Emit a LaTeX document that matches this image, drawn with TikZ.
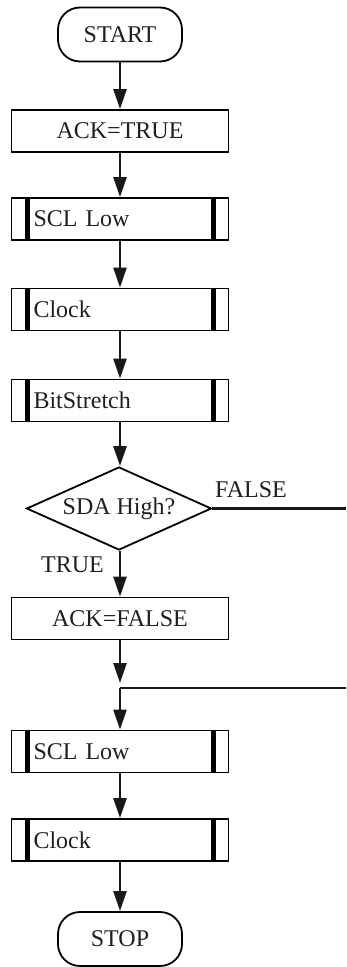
\documentclass[tikz,border=0pt]{standalone}
\usepackage{fontspec}
\setmainfont{Liberation Serif}
\usetikzlibrary{shapes.geometric,arrows.meta}
\begin{document}
\begin{tikzpicture}[x=1pt,y=-1pt,
  every node/.style={font=\fontsize{24}{28}\selectfont, text=black!88},
  term/.style={draw, line width=1.8pt, rounded corners=22pt, minimum width=124pt, minimum height=54pt, inner sep=0pt},
  procbox/.style={draw, line width=1.8pt, minimum width=217pt, minimum height=42pt, inner sep=0pt},
  subproc/.style={draw, line width=1.8pt, minimum height=42pt, inner xsep=22pt, inner ysep=0pt, text width=173pt, align=left,
    path picture={
      \fill ([xshift=13pt]path picture bounding box.north west) rectangle ([xshift=18pt]path picture bounding box.south west);
      \fill ([xshift=-13pt]path picture bounding box.north east) rectangle ([xshift=-18pt]path picture bounding box.south east);
    }},
  decision/.style={draw, diamond, aspect=2.23, line width=1.8pt, minimum width=185pt, minimum height=83pt, inner sep=0pt},
  lbl/.style={inner sep=0pt},
  conn/.style={line width=2.4pt, draw=black!90},
  arr/.style={conn, -{Triangle[length=20pt,width=13pt]}}
]
\useasboundingbox (0,0) rectangle (346,967);
\node[term] (start) at (120,34.5) {START};
\node[procbox] (ack1) at (120,131) {ACK=TRUE};
\node[subproc] (scl1) at (120,219) {SCL Low};
\node[subproc] (clk1) at (120,309.5) {Clock};
\node[subproc] (bit) at (120,400.5) {BitStretch};
\node[decision] (dia) at (119,508.5) {SDA High?};
\node[procbox] (ack2) at (120,618.5) {ACK=FALSE};
\coordinate (jtip) at (120,683);
\coordinate (j) at (120,688);
\coordinate (fend) at (346,508.5);
\coordinate (jend) at (346,688);
\node[subproc] (scl2) at (120,751.5) {SCL Low};
\node[subproc] (clk2) at (120,840) {Clock};
\node[term] (stop) at (120,939) {STOP};
\node[lbl, anchor=base west] (lf) at (215,497) {FALSE};
\node[lbl, anchor=base east] (lt) at (104,572) {TRUE};

\draw[arr] (start) -- (ack1);
\draw[arr] (ack1) -- (scl1);
\draw[arr] (scl1) -- (clk1);
\draw[arr] (clk1) -- (bit);
\draw[arr] (bit.south) -- (bit.south |- dia.north);
\draw[arr] (dia.south -| ack2) -- (ack2);
\draw[conn] (dia.east) -- (fend);
\draw[arr] (ack2.south -| jtip) -- (jtip);
\draw[conn] (j) -- (jend);
\draw[arr] (j) -- (scl2);
\draw[arr] (scl2) -- (clk2);
\draw[arr] (clk2) -- (stop);
\end{tikzpicture}
\end{document}
